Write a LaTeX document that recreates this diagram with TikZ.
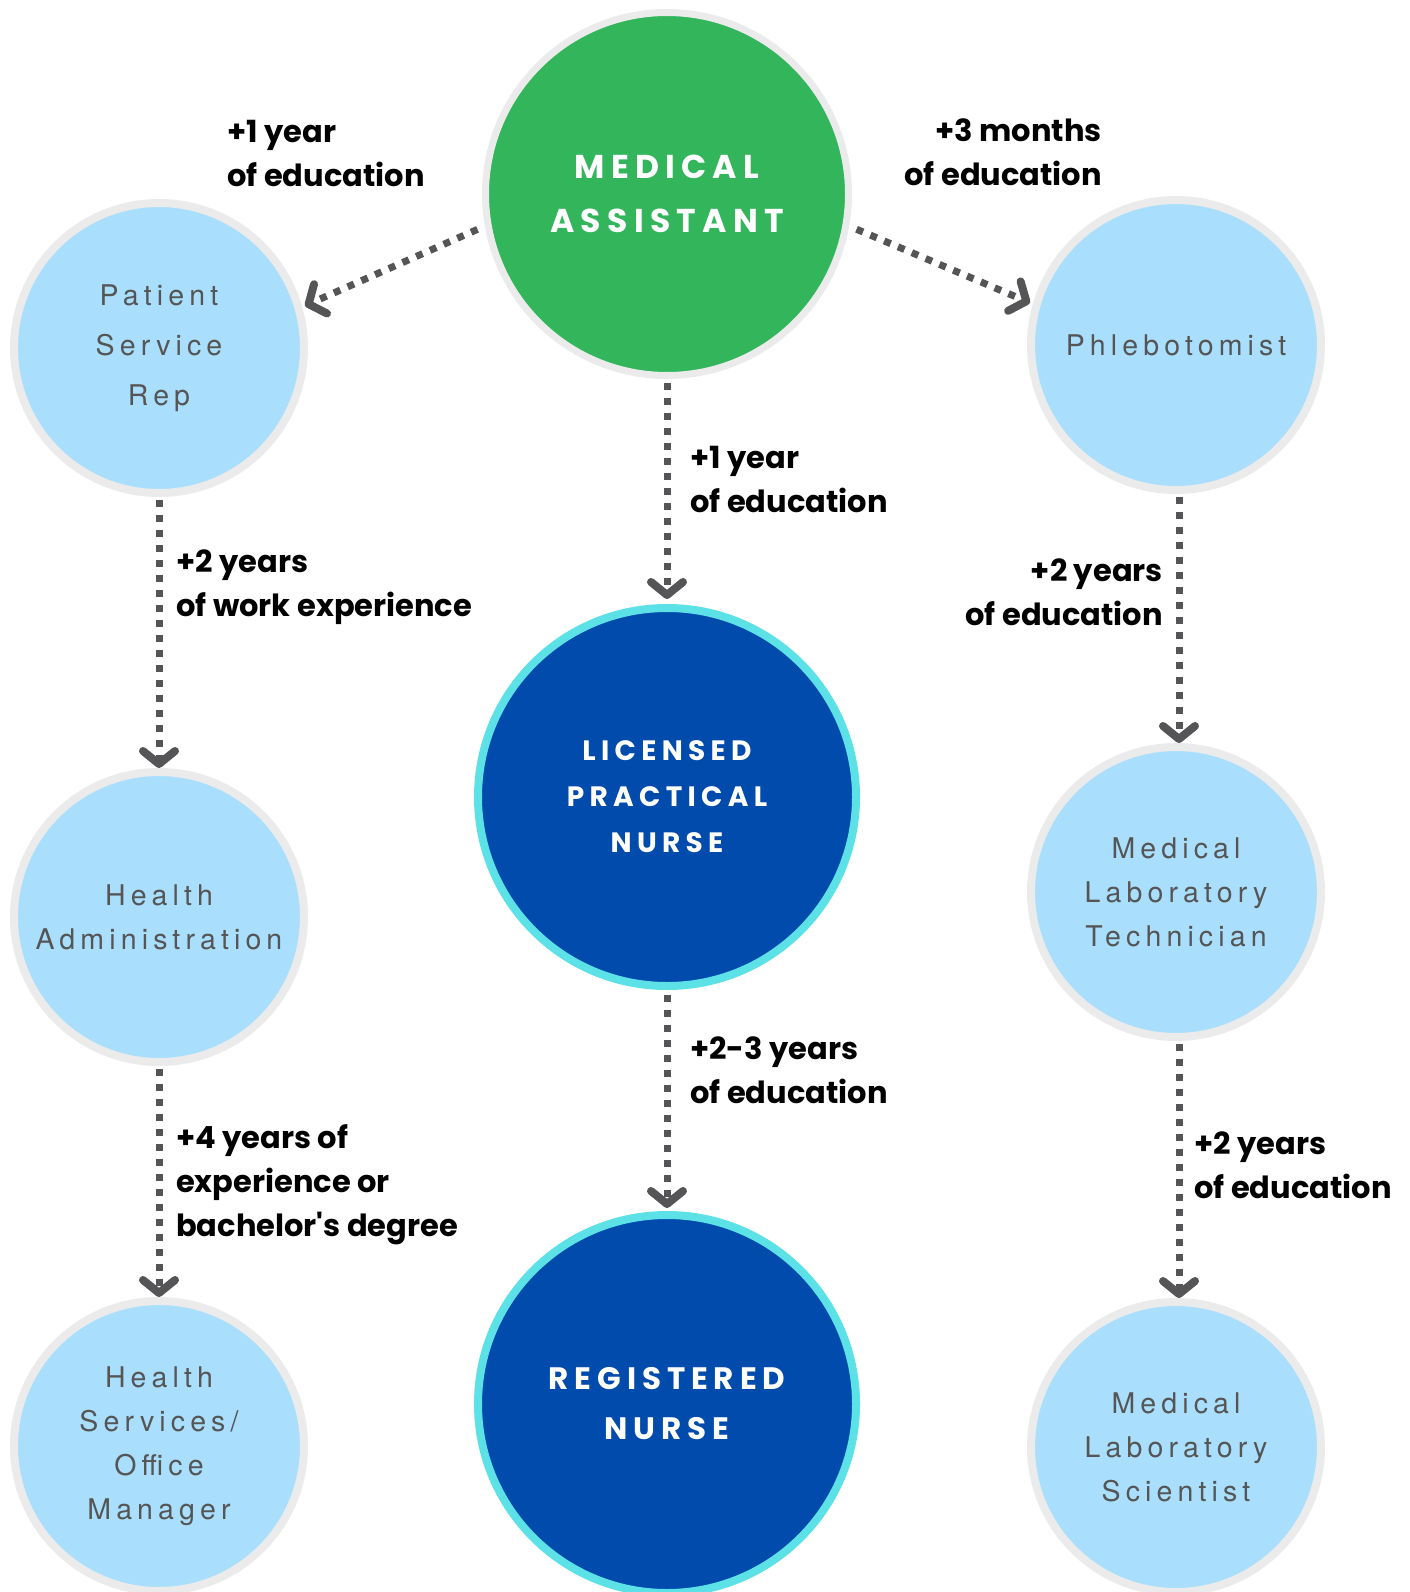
\documentclass[tikz,border=0pt]{standalone}
\usepackage{fontspec}
\setmainfont{Poppins}
\newfontfamily\notefont{Poppins}
\newfontfamily\jobfont[LetterSpace=18]{TeX Gyre Heros}
\newfontfamily\headfont[LetterSpace=19]{Poppins}
\usetikzlibrary{arrows.meta}
\definecolor{maGreen}{HTML}{33B55B}
\definecolor{ringGray}{HTML}{EBEBEB}
\definecolor{jobBlue}{HTML}{A9DFFD}
\definecolor{jobText}{HTML}{555555}
\definecolor{nurseBlue}{HTML}{014BAC}
\definecolor{nurseRing}{HTML}{5CE1E6}
\definecolor{arrowGray}{HTML}{555557}
\begin{document}
\begin{tikzpicture}[x=1pt,y=-1pt,
        job/.style={circle,draw=ringGray,line width=8pt,fill=jobBlue,minimum size=290pt,inner sep=0pt,
            align=center,text=jobText,font=\jobfont\fontsize{28.5}{44}\selectfont},
        nurse/.style={circle,draw=nurseRing,line width=8pt,fill=nurseBlue,minimum size=378pt,inner sep=0pt,
            align=center,text=white,font=\headfont\bfseries\fontsize{28}{46}\selectfont},
        conn/.style={draw=arrowGray,line width=7pt,dash pattern=on 7pt off 8pt,shorten <=3pt,shorten >=0pt,
            -{Straight Barb[length=13pt,width=32pt,line width=8pt,round]}},
        note/.style={font=\notefont\bfseries\fontsize{30.5}{44}\selectfont,inner sep=0pt},
        ]
    \useasboundingbox (0,0) rectangle (1410,1592);
    % career circles
    \node (ma) [circle,draw=ringGray,line width=7pt,fill=maGreen,minimum size=363pt,inner sep=0pt,
        align=center,text=white,font=\headfont\bfseries\fontsize{33}{54}\selectfont] at (667,194) {MEDICAL\\ASSISTANT};
    \node (psr) [job,font=\jobfont\fontsize{28.5}{50}\selectfont] at (159,348) {Patient\\Service\\Rep};
    \node (phl) [job] at (1176,345) {Phlebotomist};
    \node (ha) [job] at (159,917) {Health\\Administration};
    \node (mlt) [job] at (1176,892) {Medical\\Laboratory\\Technician};
    \node (hsom) [job] at (159,1446) {Health\\Services/\\Office\\Manager};
    \node (mls) [job] at (1176,1447) {Medical\\Laboratory\\Scientist};
    \node (lpn) [nurse] at (667,797) {LICENSED\\PRACTICAL\\NURSE};
    \node (rn) [nurse,font=\headfont\bfseries\fontsize{31}{50}\selectfont] at (667,1404) {REGISTERED\\NURSE};
    % paths
    \draw[conn,shorten <=8pt,shorten >=3pt] (ma.190) -- (psr.16);
    \draw[conn,shorten <=8pt,shorten >=3pt] (ma.-10) -- (phl.164);
    \draw[conn,shorten <=4pt,shorten >=5pt] (ma) -- (lpn);
    \draw[conn] (psr) -- (ha);
    \draw[conn] (ha) -- (hsom);
    \draw[conn,shorten <=5pt,shorten >=3pt] (lpn) -- (rn);
    \draw[conn] ([xshift=3pt]phl.south) -- ([xshift=3pt]mlt.north);
    \draw[conn] ([xshift=3pt]mlt.south) -- ([xshift=3pt]mls.north);
    % requirements
    \node (ed1) [note,anchor=west,align=left] at (227,153) {+1 year\\of education};
    \node (ed2) [note,anchor=east,align=right] at (1102,152) {+3 months\\of education};
    \node (ed3) [note,anchor=west,align=left] at (690,479) {+1 year\\of education};
    \node (wk1) [note,anchor=west,align=left] at (176,587) {+2 years\\of work experience};
    \node (ed4) [note,anchor=east,align=right] at (1163,592) {+2 years\\of education};
    \node (ed5) [note,anchor=west,align=left] at (690,1070) {+2-3 years\\of education};
    \node (wk2) [note,anchor=west,align=left] at (176,1185) {+4 years of\\experience or\\bachelor's degree};
    \node (ed6) [note,anchor=west,align=left] at (1194,1165) {+2 years\\of education};
\end{tikzpicture}
\end{document}
